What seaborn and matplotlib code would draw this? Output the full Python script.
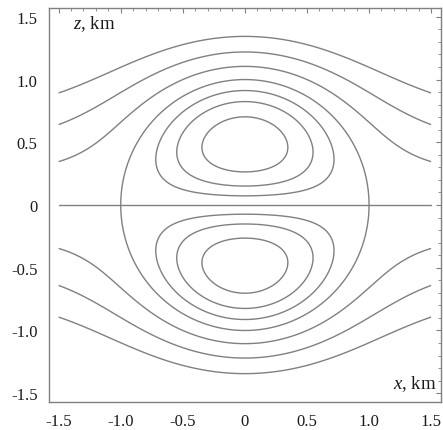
import numpy as np
import matplotlib
matplotlib.use("Agg")
import matplotlib.pyplot as plt
import seaborn as sns
from matplotlib.ticker import MultipleLocator

# ---- values ----
dipole_radius = 1.0                      # km, separatrix circle
domain = [-1.5, 1.5]                     # plotted region (km)
outer_levels = [0.2, 0.4, 0.6]           # stream-function levels outside
inner_levels = [0.18, 0.36, 0.575]       # stream-function levels inside
axis_line_x = [-1.5, 1.5]
axis_line_z = [0.0, 0.0]
tick_values = [-1.5, -1.0, -0.5, 0.0, 0.5, 1.0, 1.5]
tick_labels = ["-1.5", "-1.0", "-0.5", "0", "0.5", "1.0", "1.5"]
line_color = "#808080"

sns.set_style("white")
plt.rcParams["font.family"] = ["Liberation Serif", "DejaVu Serif"]
plt.rcParams["axes.unicode_minus"] = False
plt.rcParams["mathtext.fontset"] = "custom"
plt.rcParams["mathtext.it"] = "Liberation Serif:italic"
plt.rcParams["mathtext.rm"] = "Liberation Serif"

fig = plt.figure(figsize=(4.43, 4.31), dpi=100)
ax = fig.add_axes([0.110, 0.065, 0.8856, 0.914])

# Lamb-Chaplygin dipole stream function (moving frame)
n = 600
xs = np.linspace(domain[0], domain[1], n)
zs = np.linspace(domain[0], domain[1], n)
X, Z = np.meshgrid(xs, zs)
R = np.hypot(X, Z)
ka = 3.8317
k = ka / dipole_radius
def j1(t):
    s = np.zeros_like(t)
    term = t / 2.0
    m = 0
    while m < 40:
        s = s + term
        m += 1
        term = -term * (t / 2.0) ** 2 / (m * (m + 1))
    return s
J0a = -0.40276
Rsafe = np.where(R > 0, R, 1)
sin_t = np.where(R > 0, Z / Rsafe, 0)
psi_in = -2.0 / (k * J0a) * j1(k * R) * sin_t
psi_out = Z * (1 - dipole_radius**2 / Rsafe ** 2)

outside = np.ma.masked_where(R < dipole_radius, np.abs(psi_out))
inside = np.ma.masked_where(R > dipole_radius, np.abs(psi_in))

lw = 1.0
ax.contour(X, Z, outside, levels=outer_levels, colors=line_color, linewidths=lw)
ax.contour(X, Z, inside, levels=inner_levels, colors=line_color, linewidths=lw)
ax.contour(X, Z, R, levels=[dipole_radius], colors=line_color, linewidths=lw)
sns.lineplot(x=axis_line_x, y=axis_line_z, ax=ax, color=line_color, linewidth=lw)

ax.set_xlim(-1.58, 1.58)
ax.set_ylim(-1.57, 1.57)
ax.set_xticks(tick_values)
ax.set_xticklabels(tick_labels)
ax.set_yticks(tick_values)
ax.set_yticklabels(tick_labels)
ax.xaxis.set_minor_locator(MultipleLocator(0.1))
ax.yaxis.set_minor_locator(MultipleLocator(0.1))
ax.tick_params(which="both", direction="in", top=True, right=True,
               color=line_color, labelsize=12, labelcolor="#1a1a1a", pad=8)
ax.tick_params(which="major", length=3.5, width=0.8)
ax.tick_params(which="minor", length=2, width=0.6)
for sp in ax.spines.values():
    sp.set_color(line_color)
    sp.set_linewidth(1.0)

ax.text(0.062, 0.988, r"$z$, km", transform=ax.transAxes, ha="left", va="top",
        fontsize=13.5, color="#1a1a1a")
ax.text(0.99, 0.022, r"$x$, km", transform=ax.transAxes, ha="right", va="bottom",
        fontsize=13.5, color="#1a1a1a")

fig.savefig("out.png", dpi=100)
